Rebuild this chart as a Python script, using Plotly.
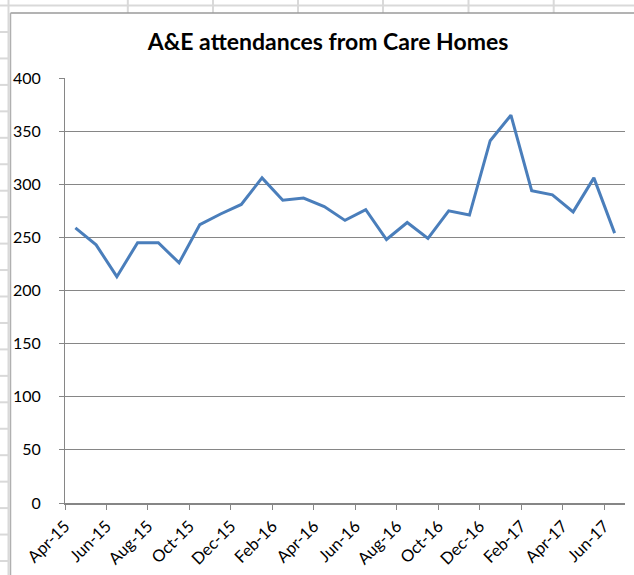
import plotly.graph_objects as go

# ---- data ----
months = ["Apr-15", "May-15", "Jun-15", "Jul-15", "Aug-15", "Sep-15", "Oct-15", "Nov-15", "Dec-15",
          "Jan-16", "Feb-16", "Mar-16", "Apr-16", "May-16", "Jun-16", "Jul-16", "Aug-16", "Sep-16",
          "Oct-16", "Nov-16", "Dec-16", "Jan-17", "Feb-17", "Mar-17", "Apr-17", "May-17", "Jun-17"]
attendances = [259, 243, 213, 245, 245, 226, 262, 272, 281, 306, 285, 287, 279, 266, 276, 248,
               264, 249, 275, 271, 341, 365, 294, 290, 274, 306, 254]
title_text = "A&E attendances from Care Homes"

W, H = 634, 575
L, R, T, B = 65, 9, 78, 72
pw, ph = W - L - R, H - T - B

idx = list(range(len(months)))
tick_pos = [i - 0.5 for i in idx[::2]]
tick_txt = months[::2]

fig = go.Figure()
fig.add_trace(go.Scatter(
    x=idx, y=attendances, mode="lines",
    line=dict(color="#4a7ebb", width=3),
    hoverinfo="skip", showlegend=False,
))

def px2paper(x, y):
    return (x - L) / pw, (H - B - y) / ph

shapes = []
def seg(x0, y0, x1, y1, color, width):
    a = px2paper(x0, y0)
    b = px2paper(x1, y1)
    shapes.append(dict(type="line", xref="paper", yref="paper", x0=a[0], y0=a[1], x1=b[0], y1=b[1],
                       line=dict(color=color, width=width), layer="below"))

grid_c = "#d9d9d9"
seg(0, 5.5, W, 5.5, grid_c, 2)
seg(8.5, 0, 8.5, H, grid_c, 2)
for cx in [127.8, 213, 298, 383, 468.5, 553.7]:
    seg(cx, 0, cx, 13, grid_c, 2)
ry = 32.0
while ry < H:
    seg(0, ry, 8.5, ry, grid_c, 2)
    ry += 26.45
# chart area border
seg(10.5, 13, W, 13, "#9a9a9a", 1.5)
seg(10.5, 13, 10.5, H, "#b0b0b0", 1.5)

FONT = "Lato, Open Sans, sans-serif"
fig.update_layout(
    width=W, height=H,
    margin=dict(l=L, r=R, t=T, b=B, pad=0, autoexpand=False),
    paper_bgcolor="white", plot_bgcolor="white",
    title=dict(text="<b>" + title_text + "</b>", x=328 / W, xref="container", xanchor="center",
               y=1 - 42 / H, yanchor="middle",
               font=dict(family=FONT, size=23, color="black")),
    shapes=shapes,
    xaxis=dict(
        range=[-0.5, len(months) - 0.5], tickmode="array", tickvals=tick_pos, ticktext=tick_txt,
        tickangle=-45, showgrid=False, zeroline=False, automargin=False,
        showline=True, linecolor="#868686", linewidth=2,
        ticks="outside", ticklen=5, tickcolor="#868686", tickwidth=1,
        tickfont=dict(family=FONT, size=16.5, color="black"),
        fixedrange=True,
    ),
    yaxis=dict(
        range=[0, 400], dtick=50, tick0=0, showgrid=True, gridcolor="#868686", gridwidth=1,
        zeroline=False, showline=True, linecolor="#868686", linewidth=1, automargin=False,
        ticks="outside", ticklen=5, tickcolor="#868686", tickwidth=1,
        ticklabelstandoff=15,
        tickfont=dict(family=FONT, size=16, color="black"),
        fixedrange=True,
    ),
)

fig.write_html("out.html")
